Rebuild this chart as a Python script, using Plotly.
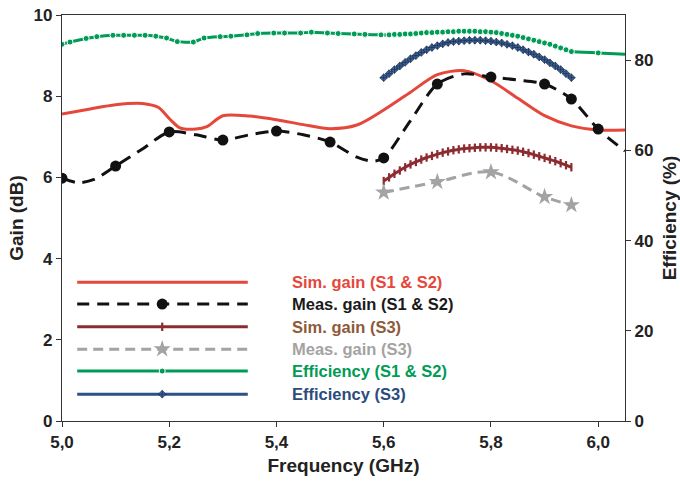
import plotly.graph_objects as go

# ---------------- data ----------------
sim_f = [5.00, 5.05, 5.10, 5.15, 5.18, 5.20, 5.22, 5.25, 5.27, 5.30, 5.35, 5.40, 5.45,
         5.50, 5.55, 5.60, 5.65, 5.70, 5.75, 5.80, 5.85, 5.90, 5.95, 6.00, 6.05]
sim_gain = [7.56, 7.68, 7.79, 7.82, 7.72, 7.45, 7.22, 7.19, 7.25, 7.52, 7.51, 7.42, 7.30,
            7.20, 7.29, 7.66, 8.10, 8.53, 8.63, 8.38, 7.95, 7.52, 7.27, 7.17, 7.17]

meas_f = [5.00, 5.03, 5.06, 5.10, 5.15, 5.20, 5.25, 5.30, 5.35, 5.40, 5.45, 5.50, 5.55,
          5.58, 5.60, 5.65, 5.70, 5.75, 5.80, 5.85, 5.90, 5.95, 6.00, 6.05]
meas_gain = [5.98, 5.87, 5.95, 6.28, 6.70, 7.12, 7.05, 6.92, 7.05, 7.14, 7.05, 6.87, 6.50,
             6.40, 6.48, 7.40, 8.30, 8.55, 8.47, 8.40, 8.30, 7.93, 7.19, 6.65]
meas_is_point = [1, 0, 0, 1, 0, 1, 0, 1, 0, 1, 0, 1, 0, 0, 1, 0, 1, 0, 1, 0, 1, 1, 1, 0]

s3_f = [round(5.60 + 0.01 * i, 2) for i in range(36)]
sim_gain_s3 = [5.91, 6.00, 6.09, 6.17, 6.25, 6.32, 6.38, 6.44, 6.49, 6.53, 6.57, 6.61,
               6.64, 6.67, 6.69, 6.71, 6.72, 6.73, 6.74, 6.74, 6.74, 6.73, 6.72, 6.70,
               6.68, 6.66, 6.63, 6.60, 6.56, 6.52, 6.48, 6.44, 6.40, 6.35, 6.30, 6.25]
eff_s3 = [76.1, 77.0, 77.9, 78.7, 79.5, 80.3, 81.0, 81.7, 82.3, 82.8, 83.2, 83.6,
          83.9, 84.1, 84.2, 84.3, 84.4, 84.4, 84.4, 84.3, 84.2, 84.0, 83.8, 83.5,
          83.2, 82.8, 82.3, 81.8, 81.3, 80.7, 80.1, 79.4, 78.7, 77.9, 77.0, 76.1]

meas_s3_f = [5.60, 5.70, 5.80, 5.90, 5.95]
meas_gain_s3 = [5.63, 5.89, 6.13, 5.52, 5.32]

eff_f = [5.000, 5.015, 5.045, 5.065, 5.095, 5.115, 5.135, 5.155, 5.175, 5.195, 5.215,
         5.245, 5.265, 5.295, 5.315, 5.345, 5.365, 5.395, 5.415, 5.445, 5.465, 5.495,
         5.515, 5.545, 5.565, 5.595] + s3_f[1:] + [6.00, 6.05]
eff = [83.5, 84.0, 84.8, 85.2, 85.5, 85.5, 85.5, 85.5, 85.3, 84.9, 84.1,
       84.0, 84.9, 85.2, 85.3, 85.6, 85.9, 86.0, 86.0, 86.0, 86.2, 86.0,
       85.9, 85.8, 85.7, 85.6,
       85.6, 85.7, 85.7, 85.8, 85.8, 85.9, 86.0, 86.1, 86.1, 86.2, 86.2, 86.3, 86.3,
       86.4, 86.4, 86.4, 86.4, 86.3, 86.3, 86.2, 86.1, 85.9, 85.7, 85.5, 85.3, 85.0,
       84.7, 84.4, 84.1, 83.8, 83.5, 83.1, 82.7, 82.3, 81.9,
       81.6, 81.3]

x_ticks = [5.0, 5.2, 5.4, 5.6, 5.8, 6.0]
gain_ticks = [0, 2, 4, 6, 8, 10]
eff_ticks = [0, 20, 40, 60, 80]

legend_labels = ["Sim. gain (S1 & S2)", "Meas. gain (S1 & S2)", "Sim. gain (S3)",
                 "Meas. gain (S3)", "Efficiency (S1 & S2)", "Efficiency (S3)"]

# ---------------- styles ----------------
RED = "#e5473b"
BLACK = "#111111"
MAROON = "#8c2c30"
GRAY = "#a3a3a3"
GREEN = "#009b55"
NAVY = "#2d5185"
NAVY_FILL = "#3d66a0"
NAVY_DARK = "#15233a"
TEXT_COLORS = [RED, "#1a1a1a", "#8e5a3a", GRAY, GREEN, "#2b4b7c"]
FONT = "Liberation Sans"
AX_COLOR = "#333333"
TXT = "#222222"

fig = go.Figure()

fig.add_trace(go.Scatter(x=eff_f, y=eff, yaxis="y2", mode="lines+markers",
                         line=dict(color=GREEN, width=3, shape="spline", smoothing=0.6),
                         marker=dict(color=GREEN, opacity=1,
                                     size=[6] * (len(eff_f) - 1) + [0]),
                         showlegend=False))
fig.add_trace(go.Scatter(x=s3_f, y=eff_s3, yaxis="y2", mode="lines+markers",
                         line=dict(color=NAVY, width=3, shape="spline"),
                         marker=dict(symbol="diamond-cross", color=NAVY_FILL, size=6, opacity=1,
                                     line=dict(color=NAVY_DARK, width=0.6)),
                         showlegend=False))
fig.add_trace(go.Scatter(x=sim_f, y=sim_gain, mode="lines",
                         line=dict(color=RED, width=3, shape="spline", smoothing=0.8),
                         showlegend=False))
fig.add_trace(go.Scatter(x=s3_f, y=sim_gain_s3, mode="lines+markers",
                         line=dict(color=MAROON, width=3, shape="spline"),
                         marker=dict(symbol="line-ns", size=6, opacity=1,
                                     line=dict(color=MAROON, width=2.2)),
                         showlegend=False))
fig.add_trace(go.Scatter(x=meas_s3_f, y=meas_gain_s3, mode="lines+markers",
                         line=dict(color=GRAY, width=3, dash="10px,6px", shape="spline"),
                         marker=dict(symbol="star", color=GRAY, size=13, opacity=1,
                                     line=dict(width=0)),
                         showlegend=False))
fig.add_trace(go.Scatter(x=meas_f, y=meas_gain, mode="lines+markers",
                         line=dict(color=BLACK, width=3, dash="13px,8px", shape="spline",
                                   smoothing=0.8),
                         marker=dict(color=BLACK, opacity=1, line=dict(width=0),
                                     size=[11 if p else 0 for p in meas_is_point]),
                         showlegend=False))

# ---------------- custom legend (hidden overlay axes, fractions of plot area) --------
LX0, LXM, LX1 = 0.027, 0.178, 0.330
LTX = 0.405
rows = [0.342, 0.288, 0.232, 0.177, 0.123, 0.066]
leg_styles = [
    dict(line=dict(color=RED, width=3), marker=dict(size=0)),
    dict(line=dict(color=BLACK, width=3, dash="12px,8px"),
         marker=dict(size=11, color=BLACK, line=dict(width=0))),
    dict(line=dict(color=MAROON, width=3),
         marker=dict(symbol="line-ns", size=6, line=dict(color=MAROON, width=2.2))),
    dict(line=dict(color=GRAY, width=3, dash="10px,6px"),
         marker=dict(symbol="star", size=13, color=GRAY, line=dict(width=0))),
    dict(line=dict(color=GREEN, width=3), marker=dict(size=6, color=GREEN)),
    dict(line=dict(color=NAVY, width=3),
         marker=dict(symbol="diamond-cross", size=6, color=NAVY_FILL,
                     line=dict(color=NAVY_DARK, width=0.6))),
]
for r, st in zip(rows, leg_styles):
    mk = dict(st["marker"])
    s = mk.get("size", 0)
    mk["size"] = [0, s, 0]
    mk["opacity"] = 1
    fig.add_trace(go.Scatter(x=[LX0, LXM, LX1], y=[r, r, r], xaxis="x3", yaxis="y3",
                             mode="lines+markers", line=st["line"], marker=mk,
                             showlegend=False, hoverinfo="skip"))

for r, lab, c in zip(rows, legend_labels, TEXT_COLORS):
    fig.add_annotation(x=LTX, y=r, xref="paper", yref="paper", text=lab,
                       showarrow=False, xanchor="left", yanchor="middle",
                       font=dict(family=FONT, size=16.5, color=c, weight="bold"))

tick_font = dict(family=FONT, size=17, color=TXT, weight="bold")
title_font = dict(family=FONT, size=19, color=TXT, weight="bold")
axis_common = dict(showline=True, linecolor=AX_COLOR, linewidth=1.2, ticks="outside",
                   ticklen=5, tickcolor=AX_COLOR, showgrid=False, zeroline=False,
                   tickfont=tick_font, automargin=False)

fig.update_layout(
    width=680, height=481,
    margin=dict(l=62, r=55, t=15, b=60),
    plot_bgcolor="white", paper_bgcolor="white",
    separators=",.",
    xaxis=dict(range=[5.0, 6.05], tickvals=x_ticks, tickformat=".1f", mirror=True,
               title=dict(text="Frequency (GHz)", font=title_font, standoff=8),
               **axis_common),
    yaxis=dict(range=[0, 10], tickvals=gain_ticks,
               title=dict(text="Gain (dB)", font=title_font, standoff=4),
               **axis_common),
    yaxis2=dict(range=[0, 90], tickvals=eff_ticks, overlaying="y", side="right",
                title=dict(text="Efficiency (%)", font=title_font, standoff=11),
                **axis_common),
    xaxis3=dict(overlaying="x", range=[0, 1], visible=False),
    yaxis3=dict(overlaying="y", range=[0, 1], visible=False),
    font=dict(family=FONT),
)

fig.write_html("out.html")
